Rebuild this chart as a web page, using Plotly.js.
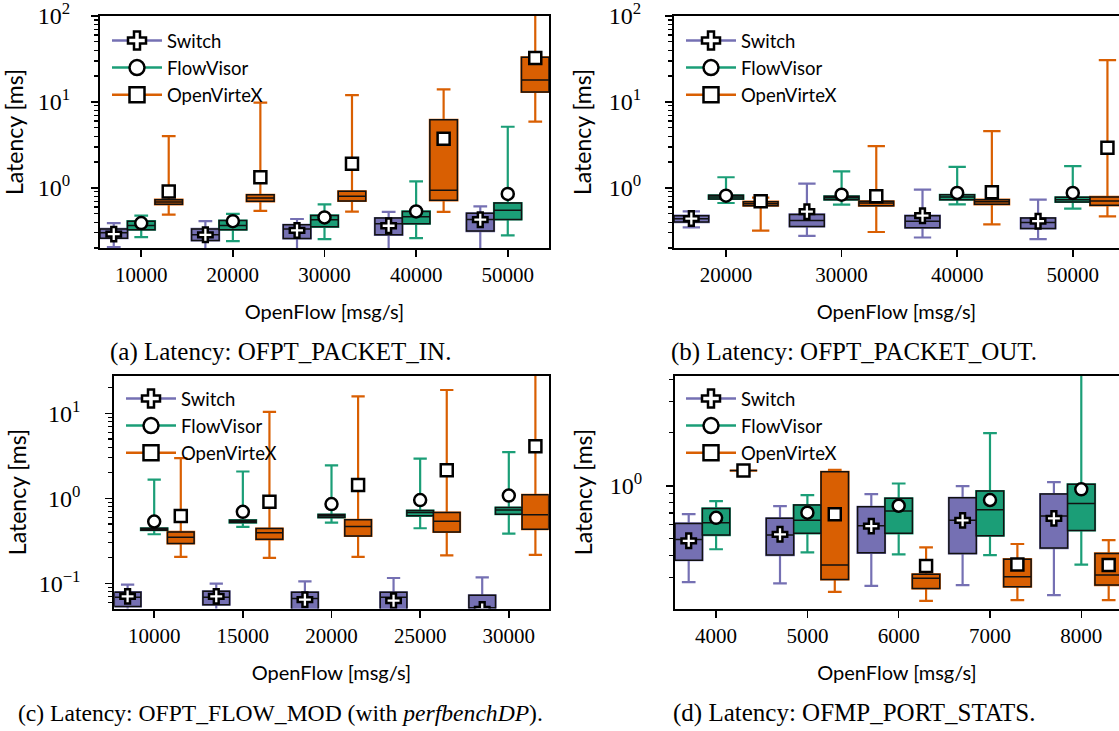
<!DOCTYPE html>
<html><head><meta charset="utf-8">
<script src="https://cdn.plot.ly/plotly-3.0.1.min.js"></script>
<style>body{margin:0;background:#fff}#chart{width:1119px;height:731px}</style>
</head><body><div id="chart"></div>
<script>
// ---------- data (rows: [lower whisker, q1, median, q3, upper whisker, mean]) ----------
const SERIES = ['Switch', 'FlowVisor', 'OpenVirteX'];

// (a) OFPT_PACKET_IN
const pinRates = [10000, 20000, 30000, 40000, 50000];
const pinSwitch = [[0.205,0.26,0.30,0.333,0.39,0.29],[0.18,0.245,0.285,0.333,0.41,0.285],[0.18,0.258,0.333,0.373,0.435,0.32],[0.18,0.285,0.383,0.447,0.525,0.363],[0.18,0.315,0.43,0.506,0.61,0.427]];
const pinFlowVisor = [[0.268,0.326,0.366,0.41,0.475,0.39],[0.24,0.326,0.366,0.418,0.50,0.41],[0.254,0.353,0.427,0.479,0.644,0.454],[0.26,0.383,0.463,0.533,1.19,0.533],[0.28,0.43,0.548,0.668,5.15,0.851]];
const pinOVX = [[0.488,0.644,0.687,0.73,4.0,0.91],[0.54,0.698,0.764,0.83,9.8,1.33],[0.529,0.705,0.798,0.913,12.0,1.91],[0.525,0.717,0.938,6.2,14.0,3.73],[5.89,13.1,18.0,33.1,110,32.5]];

// (b) OFPT_PACKET_OUT
const poutRates = [20000, 30000, 40000, 50000];
const poutSwitch = [[0.347,0.401,0.438,0.475,0.533,0.44],[0.277,0.356,0.418,0.492,1.12,0.529],[0.265,0.344,0.41,0.475,0.955,0.475],[0.254,0.338,0.397,0.447,0.73,0.41]];
const poutFlowVisor = [[0.668,0.745,0.785,0.82,1.33,0.813],[0.638,0.73,0.77,0.798,1.56,0.835],[0.644,0.73,0.785,0.83,1.76,0.874],[0.573,0.687,0.73,0.777,1.79,0.874]];
const poutOVX = [[0.318,0.621,0.656,0.692,0.77,0.698],[0.307,0.621,0.668,0.698,3.06,0.798],[0.376,0.644,0.692,0.73,4.57,0.889],[0.467,0.627,0.705,0.785,30.6,2.93]];

// (c) OFPT_FLOW_MOD
const fmRates = [10000, 15000, 20000, 25000, 30000];
const fmSwitch = [[0.04,0.0537,0.0687,0.079,0.097,0.0706],[0.04,0.0563,0.0687,0.0808,0.0997,0.0706],[0.035,0.045,0.0668,0.0787,0.106,0.0645],[0.035,0.045,0.0687,0.0787,0.116,0.0628],[0.03,0.04,0.052,0.0725,0.118,0.0495]];
const fmFlowVisor = [[0.379,0.423,0.434,0.446,1.66,0.535],[0.463,0.52,0.54,0.555,2.07,0.696],[0.52,0.596,0.624,0.647,2.44,0.857],[0.446,0.624,0.683,0.721,2.93,0.957],[0.385,0.653,0.729,0.782,3.5,1.08]];
const fmOVX = [[0.206,0.296,0.349,0.404,2.97,0.619],[0.2,0.33,0.396,0.442,10.4,0.914],[0.206,0.362,0.466,0.56,15.8,1.44],[0.214,0.404,0.54,0.683,18.8,2.14],[0.217,0.434,0.641,1.1,35,4.09]];

// (d) OFMP_PORT_STATS
const psRates = [4000, 5000, 6000, 7000, 8000];
const psSwitch = [[0.284,0.378,0.496,0.611,0.69,0.487],[0.279,0.404,0.525,0.653,0.767,0.53],[0.27,0.416,0.593,0.76,0.897,0.59],[0.273,0.413,0.638,0.855,0.996,0.636],[0.239,0.443,0.673,0.897,1.05,0.653]];
const psFlowVisor = [[0.436,0.525,0.616,0.744,0.819,0.658],[0.418,0.537,0.638,0.777,0.885,0.703],[0.408,0.537,0.718,0.848,1.03,0.77],[0.404,0.52,0.731,0.933,1.99,0.83],[0.357,0.558,0.794,1.02,5.0,0.954]];
const psOVX = [[1.22,1.22,1.22,1.22,1.22,1.22],[0.25,0.294,0.355,1.2,1.23,0.688],[0.222,0.261,0.298,0.314,0.447,0.35],[0.224,0.267,0.304,0.383,0.467,0.357],[0.224,0.273,0.311,0.413,0.491,0.355]];

const majorVals = [0.1, 1, 10, 100];
const majorText = ['10<sup>\u22121</sup>', '10<sup>0</sup>', '10<sup>1</sup>', '10<sup>2</sup>'];

// ---------- styling ----------
const COLORS = ['#7570b3', '#1b9e77', '#d95f02'];
const SYMBOLS = ['cross', 'circle', 'square'];
const SERIF = 'Liberation Serif';
const SANS = 'Lato';
const W = 1119, H = 731;

const minorVals = [];
for (let e = -2; e <= 2; e++) for (let k = 2; k <= 9; k++) minorVals.push(k * Math.pow(10, e));

const whiskerTraces = [], bodyTraces = [], meanTraces = [], legendTraces = [];

function addPanel(n, rates, offset, width, groups) {
  const sfx = n === 1 ? '' : String(n);
  groups.forEach((rows, s) => {
    const xs = rates.map(r => r + (s - 1) * offset);
    const col = i => rows.map(r => r[i]);
    const common = {type: 'box', x: xs, q1: col(1), median: col(2), q3: col(3),
      width: width, fillcolor: COLORS[s], boxpoints: false, hoverinfo: 'skip',
      showlegend: false, xaxis: 'x' + sfx, yaxis: 'y' + sfx};
    whiskerTraces.push(Object.assign({}, common, {lowerfence: col(0), upperfence: col(4),
      line: {color: COLORS[s], width: 2.2}, whiskerwidth: 0.5}));
    bodyTraces.push(Object.assign({}, common, {lowerfence: col(1), upperfence: col(3),
      line: {color: '#111', width: 1.5}, whiskerwidth: 0}));
    meanTraces.push({type: 'scatter', mode: 'markers', x: xs, y: col(5), showlegend: false,
      hoverinfo: 'skip', xaxis: 'x' + sfx, yaxis: 'y' + sfx,
      marker: {symbol: SYMBOLS[s], size: 12, color: 'white', line: {color: 'black', width: 2.5}}});
    legendTraces.push({type: 'scatter', mode: 'lines+markers', x: [null], y: [null], name: SERIES[s],
      legend: 'legend' + sfx, xaxis: 'x' + sfx, yaxis: 'y' + sfx, showlegend: true,
      line: {color: COLORS[s], width: 2.5},
      marker: {symbol: SYMBOLS[s], size: 15, color: 'white', line: {color: 'black', width: 2.5}}});
  });
}

addPanel(1, pinRates, 3000, 3000, [pinSwitch, pinFlowVisor, pinOVX]);
addPanel(2, poutRates, 3000, 3000, [poutSwitch, poutFlowVisor, poutOVX]);
addPanel(3, fmRates, 1500, 1500, [fmSwitch, fmFlowVisor, fmOVX]);
addPanel(4, psRates, 300, 300, [psSwitch, psFlowVisor, psOVX]);

function xAxis(l, r, range, tickvals, anchor) {
  return {domain: [l / W, r / W], range: range, anchor: anchor, showline: true, linecolor: 'black',
    linewidth: 2, mirror: true, ticks: 'outside', ticklen: 7, tickwidth: 1.5, tickcolor: 'black',
    tickmode: 'array', tickvals: tickvals, ticktext: tickvals.map(String),
    tickfont: {family: SERIF, size: 21, color: 'black'}, ticklabeloverflow: 'allow',
    showgrid: false, zeroline: false,
    title: {text: 'OpenFlow [msg/s]', font: {family: SANS, size: 20, color: 'black'}, standoff: 19}};
}
function yAxis(top, bottom, range, anchor, mirror, standoff, titleStandoff) {
  return {type: 'log', domain: [1 - bottom / H, 1 - top / H], range: range, anchor: anchor,
    showline: true, linecolor: 'black', linewidth: 2, mirror: mirror, ticks: 'outside', ticklen: 7,
    tickwidth: 1.5, tickcolor: 'black', tickmode: 'array', tickvals: majorVals, ticktext: majorText,
    tickfont: {family: SERIF, size: 24, color: 'black'}, ticklabelstandoff: standoff,
    ticklabeloverflow: 'allow',
    minor: {tickmode: 'array', tickvals: minorVals, ticks: 'outside', ticklen: 4, tickwidth: 1.2,
      tickcolor: 'black', showgrid: false},
    showgrid: false, zeroline: false,
    title: {text: 'Latency [ms]', font: {family: SANS, size: 23, color: 'black'}, standoff: titleStandoff}};
}
function legendAt(xpx, ypx) {
  return {x: xpx / W, y: 1 - ypx / H, xref: 'paper', yref: 'paper', xanchor: 'left', yanchor: 'top',
    bgcolor: 'rgba(0,0,0,0)', borderwidth: 0, itemwidth: 50, tracegroupgap: 0,
    font: {family: SANS, size: 18.5, color: 'black'}};
}
function caption(text, xpx, ypx, size) {
  return {text: text, x: xpx / W, y: 1 - ypx / H, xref: 'paper', yref: 'paper', showarrow: false,
    xanchor: 'center', yanchor: 'middle', font: {family: SERIF, size: size, color: 'black'}};
}

const layout = {
  width: W, height: H, margin: {l: 0, r: 0, t: 0, b: 0}, paper_bgcolor: 'white', plot_bgcolor: 'white',
  boxmode: 'overlay', showlegend: true, font: {family: SERIF, size: 20, color: 'black'},
  xaxis: xAxis(100, 549, [5500, 54500], pinRates, 'y'),
  yaxis: yAxis(16, 248, [Math.log10(0.2), 2], 'x', true, 16, 11),
  xaxis2: xAxis(674, W, [15500, 54000], poutRates, 'y2'),
  yaxis2: yAxis(16, 248, [Math.log10(0.2), 2], 'x2', false, 19, 11),
  xaxis3: xAxis(114.3, 548.7, [7750, 32250], fmRates, 'y3'),
  yaxis3: yAxis(375.7, 608.5, [-1.294, 1.442], 'x3', true, 20, 6),
  xaxis4: xAxis(675, W, [3550, 8413], psRates, 'y4'),
  yaxis4: yAxis(375.7, 608.5, [-0.697, 0.625], 'x4', false, 19, 11),
  legend: legendAt(107, 22),
  legend2: legendAt(681, 22),
  legend3: legendAt(121, 380),
  legend4: legendAt(681, 380),
  annotations: [
    caption('(a) Latency: OFPT_PACKET_IN.', 280, 352, 25),
    caption('(b) Latency: OFPT_PACKET_OUT.', 853.5, 352, 25),
    caption('(c) Latency: OFPT_FLOW_MOD (with <i>perfbenchDP</i>).', 280, 713, 23.6),
    caption('(d) Latency: OFMP_PORT_STATS.', 853.5, 713, 25)
  ]
};

Plotly.newPlot('chart', whiskerTraces.concat(bodyTraces, meanTraces, legendTraces), layout,
  {staticPlot: true, displayModeBar: false});
</script>
</body></html>
